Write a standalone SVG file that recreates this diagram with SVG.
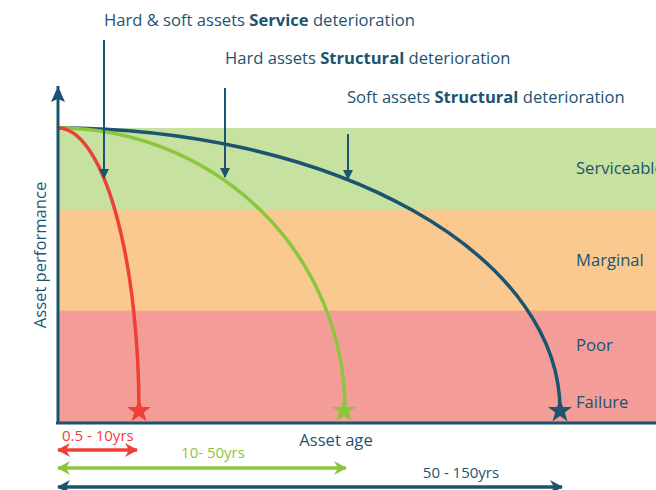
<svg xmlns="http://www.w3.org/2000/svg" width="656" height="490" viewBox="0 0 656 490">
  <style>
    text { font-family: "Open Sans", "Liberation Sans", sans-serif; font-size: 16.6px; fill: #1b5470; }
    .b { font-weight: bold; }
    .rng { font-size: 15px; }
    .axis { stroke: #1b5470; stroke-width: 3; fill: none; }
    .lead { stroke: #1b5470; stroke-width: 2; fill: none; }
    .curve { fill: none; stroke-width: 3.5; }
  </style>
  <defs>
    <marker id="tip" viewBox="0 0 10 10" refX="9" refY="5" markerWidth="10" markerHeight="10" markerUnits="userSpaceOnUse" orient="auto">
      <path d="M0,0 L10,5 L0,10 Z" fill="#1b5470"/>
    </marker>
    <marker id="axtip" viewBox="0 0 12 16" refX="16" refY="8" markerWidth="12" markerHeight="16" markerUnits="userSpaceOnUse" orient="auto">
      <path d="M0,1 L16,8 L0,15 L3,8 Z" fill="#1b5470"/>
    </marker>
    <marker id="rngR" viewBox="0 0 14 14" refX="12" refY="7" markerWidth="14" markerHeight="14" markerUnits="userSpaceOnUse" orient="auto-start-reverse">
      <path d="M0,0 L13,7 L0,14 L4,7 Z" fill="#ee4037"/>
    </marker>
    <marker id="rngG" viewBox="0 0 14 14" refX="12" refY="7" markerWidth="14" markerHeight="14" markerUnits="userSpaceOnUse" orient="auto-start-reverse">
      <path d="M0,0 L13,7 L0,14 L4,7 Z" fill="#8cc63f"/>
    </marker>
    <marker id="rngB" viewBox="0 0 14 14" refX="12" refY="7" markerWidth="14" markerHeight="14" markerUnits="userSpaceOnUse" orient="auto-start-reverse">
      <path d="M0,0 L13,7 L0,14 L4,7 Z" fill="#1b5470"/>
    </marker>
    <path id="star" d="M0,-12.5 L3,-4.1 L11.9,-3.9 L4.8,1.6 L7.4,10.2 L0,5.1 L-7.4,10.2 L-4.8,1.6 L-11.9,-3.9 L-3,-4.1 Z"/>
  </defs>

  <!-- condition bands -->
  <g id="bands">
    <rect x="57" y="128" width="599" height="81" fill="#c6e1a0"/>
    <rect x="57" y="209" width="599" height="102" fill="#f9c98f"/>
    <rect x="57" y="311" width="599" height="112" fill="#f49c97"/>
    <line x1="57" y1="311" x2="656" y2="311" stroke="#f5a878" stroke-width="1"/>
  </g>

  <g id="band-labels">
    <text x="576" y="174">Serviceable</text>
    <text x="576" y="266">Marginal</text>
    <text x="576" y="351">Poor</text>
    <text x="576" y="408">Failure</text>
  </g>

  <!-- deterioration curves -->
  <g id="curves">
    <path class="curve" stroke="#1b5470" d="M58,128 A502,282 0 0 1 560,410"/>
    <path class="curve" stroke="#8cc63f" d="M58,128 A287,282 0 0 1 345,410"/>
    <path class="curve" stroke="#ee4037" d="M58,128 A81,284 0 0 1 139,412"/>
  </g>

  <g id="stars">
    <use href="#star" x="139" y="411" fill="#ee4037"/>
    <use href="#star" x="344" y="411" fill="#8cc63f"/>
    <use href="#star" x="560" y="411" fill="#1b5470"/>
  </g>

  <!-- axes -->
  <g id="axes">
    <line class="axis" x1="58" y1="424" x2="58" y2="86" marker-end="url(#axtip)"/>
    <line class="axis" x1="56" y1="423" x2="656" y2="423"/>
    <text x="336" y="446" text-anchor="middle">Asset age</text>
    <text transform="translate(46,255) rotate(-90)" text-anchor="middle">Asset performance</text>
  </g>

  <!-- callouts -->
  <g id="callout-service">
    <text x="104" y="26">Hard &amp; soft assets <tspan class="b">Service</tspan> deterioration</text>
  </g>
  <g id="callout-hard">
    <text x="225" y="64">Hard assets <tspan class="b">Structural</tspan> deterioration</text>
  </g>
  <g id="callout-soft">
    <text x="347" y="103">Soft assets <tspan class="b">Structural</tspan> deterioration</text>
  </g>

  <g id="connectors">
    <line class="lead" x1="104" y1="40" x2="104" y2="178" marker-end="url(#tip)"/>
    <line class="lead" x1="225" y1="88" x2="225" y2="177" marker-end="url(#tip)"/>
    <line class="lead" x1="348" y1="134" x2="348" y2="179" marker-end="url(#tip)"/>
  </g>

  <!-- lifespan ranges -->
  <g id="range-red">
    <line x1="58" y1="450" x2="137" y2="450" stroke="#ee4037" stroke-width="3.5" marker-start="url(#rngR)" marker-end="url(#rngR)"/>
    <text class="rng" x="62" y="441" style="fill:#ee4037">0.5 - 10yrs</text>
  </g>
  <g id="range-green">
    <line x1="58" y1="468" x2="346" y2="468" stroke="#8cc63f" stroke-width="3.5" marker-start="url(#rngG)" marker-end="url(#rngG)"/>
    <text class="rng" x="213" y="458" text-anchor="middle" style="fill:#8cc63f">10- 50yrs</text>
  </g>
  <g id="range-blue">
    <line x1="58" y1="487" x2="562" y2="487" stroke="#1b5470" stroke-width="3.5" marker-start="url(#rngB)" marker-end="url(#rngB)"/>
    <text class="rng" x="461" y="478" text-anchor="middle">50 - 150yrs</text>
  </g>
</svg>
